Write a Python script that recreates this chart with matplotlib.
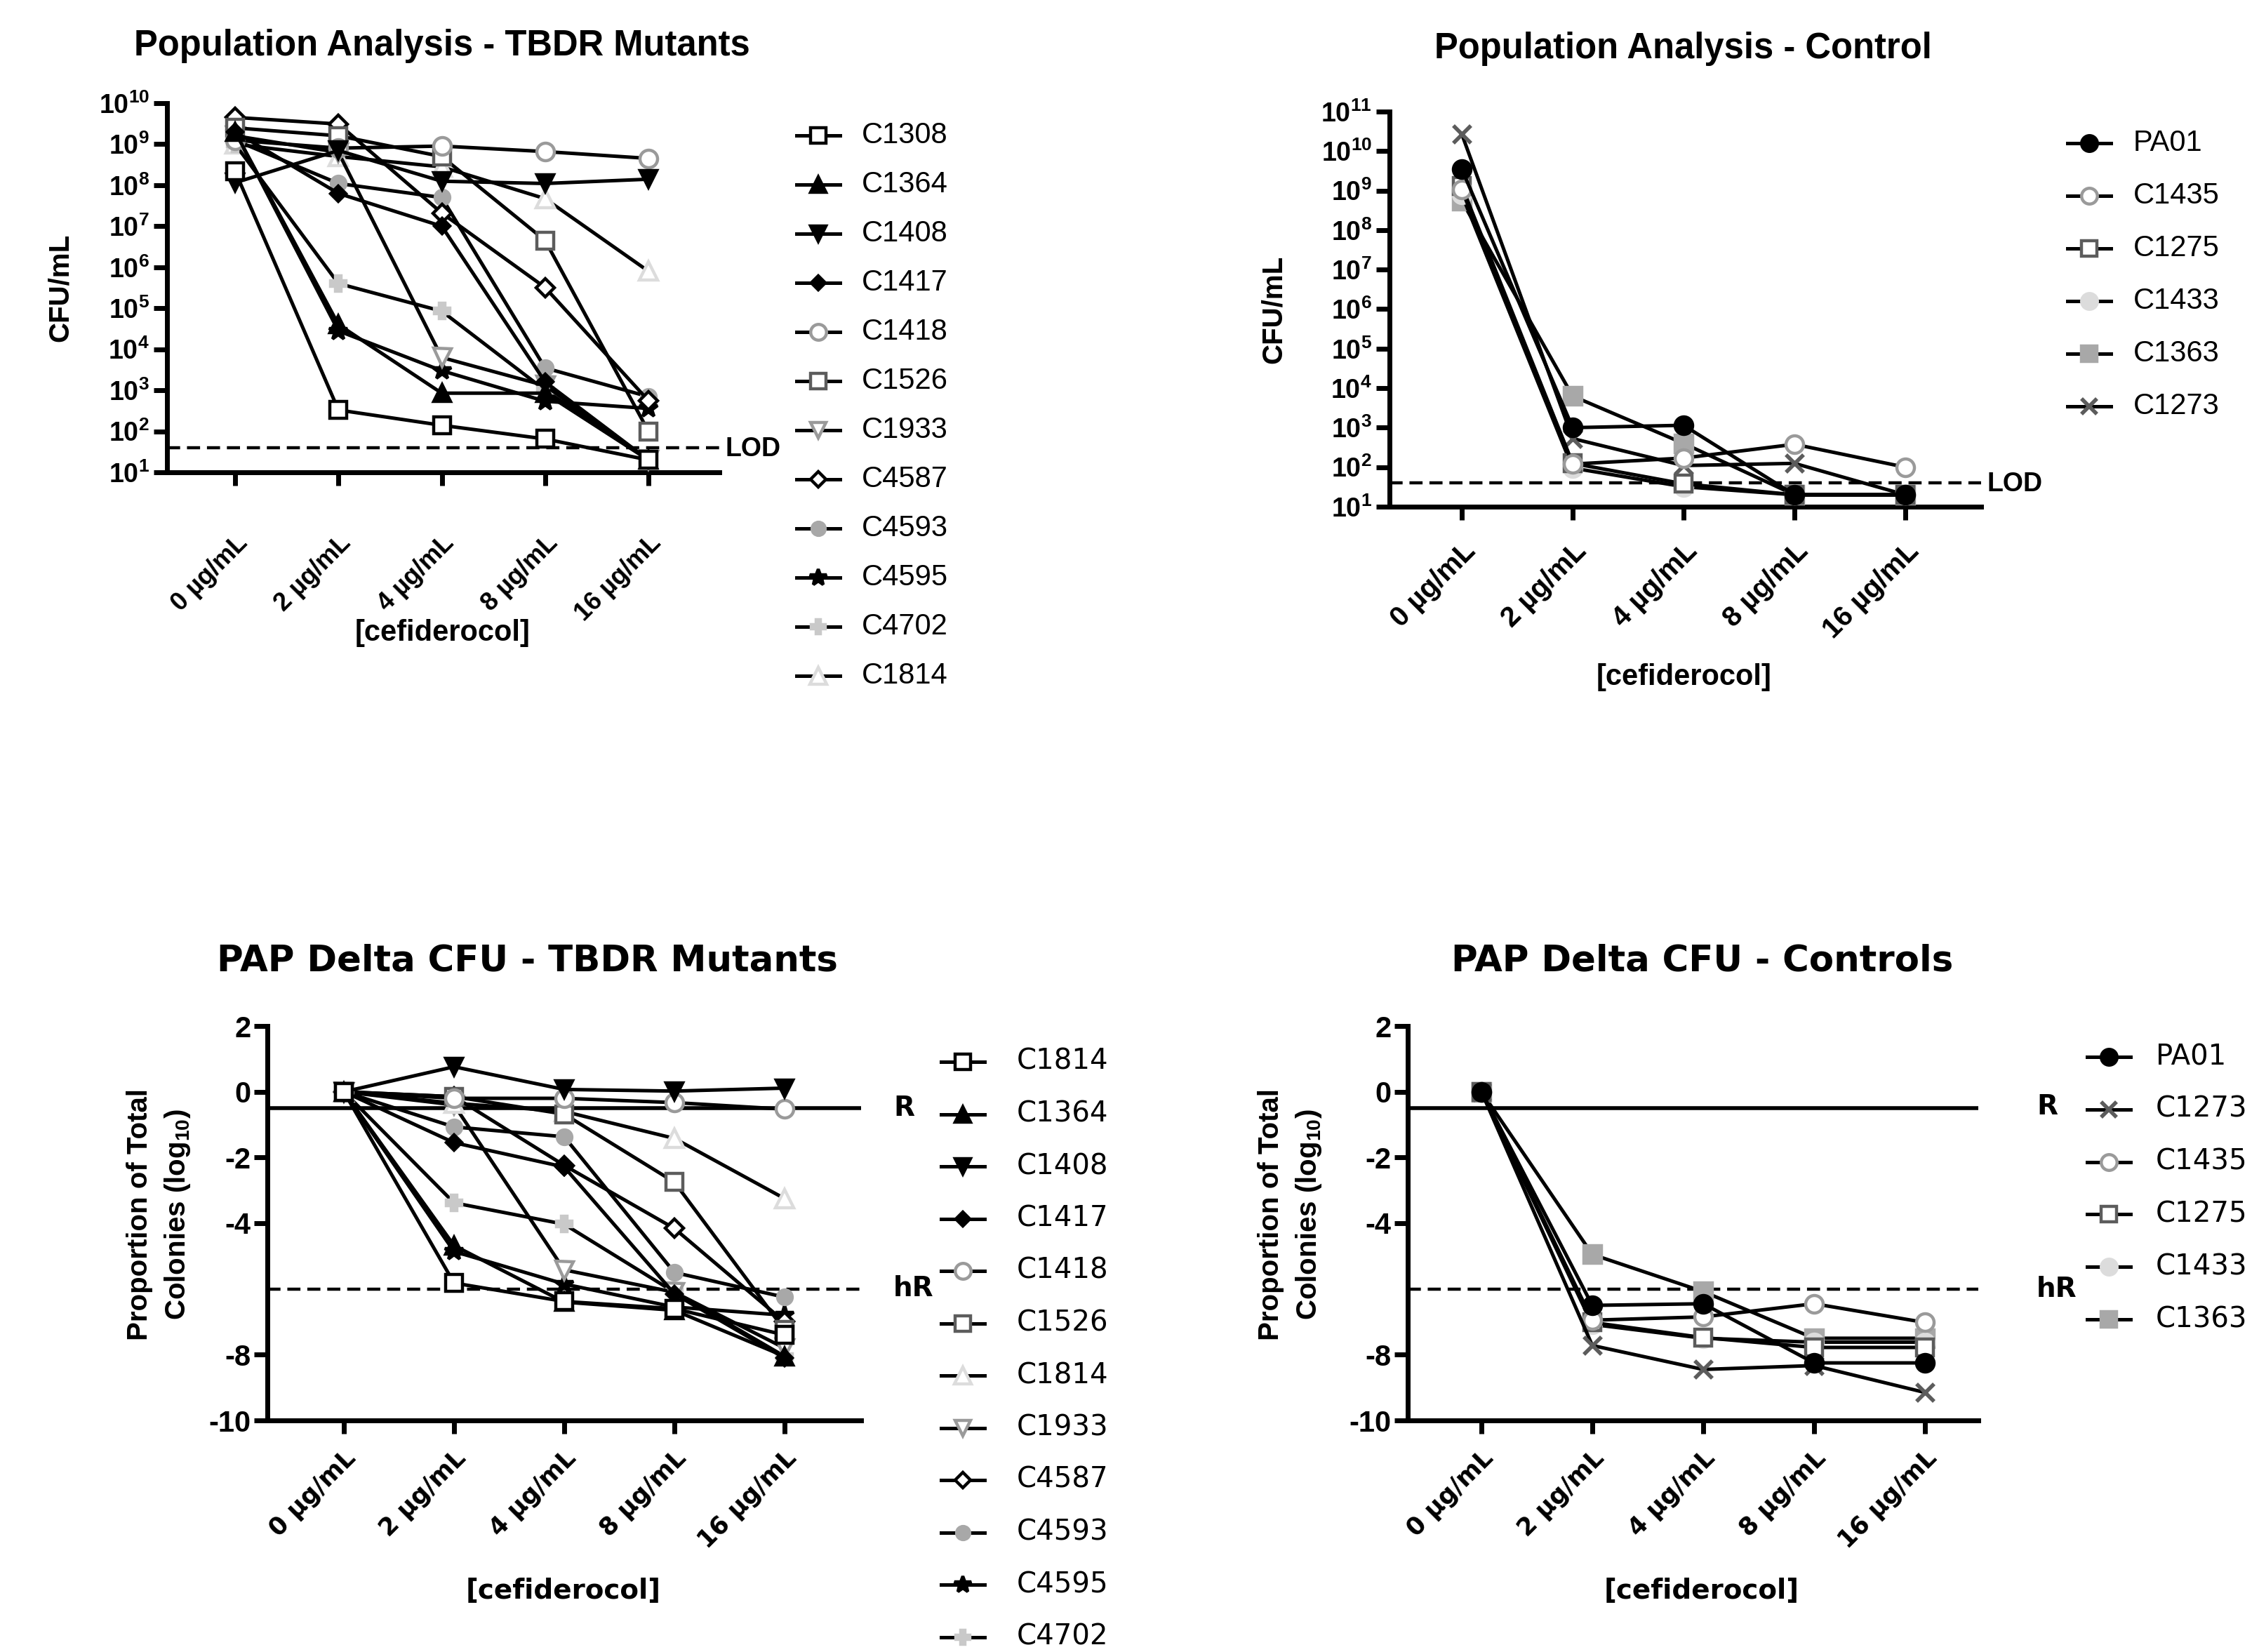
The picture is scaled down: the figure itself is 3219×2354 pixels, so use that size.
import matplotlib
matplotlib.use('Agg')
import matplotlib.pyplot as plt
from matplotlib.lines import Line2D
from matplotlib.ticker import FixedLocator, FixedFormatter, NullLocator

plt.rcParams['font.family'] = ['Liberation Sans', 'DejaVu Sans']
plt.rcParams['mathtext.fontset'] = 'custom'
plt.rcParams['mathtext.rm'] = 'Liberation Sans'
plt.rcParams['mathtext.bf'] = 'Liberation Sans:bold'
plt.rcParams['mathtext.it'] = 'Liberation Sans:italic'
plt.rcParams['mathtext.sf'] = 'Liberation Sans'

# ---------------------------------------------------------------- data
concentrations = ['0 µg/mL', '2 µg/mL', '4 µg/mL', '8 µg/mL', '16 µg/mL']
x_label = '[cefiderocol]'

# Population analysis - TBDR mutants (CFU/mL)
mutant_strains = ['C1308', 'C1364', 'C1408', 'C1417', 'C1418', 'C1526',
                  'C1933', 'C4587', 'C4593', 'C4595', 'C4702', 'C1814']
cfu_C1308 = [2.2e8, 330, 140, 65, 20]
cfu_C1364 = [2.0e9, 4.0e4, 850, 850, 20]
cfu_C1408 = [1.15e8, 7.0e8, 1.25e8, 1.1e8, 1.4e8]
cfu_C1417 = [2.0e9, 6.3e7, 1.0e7, 1.6e3, 20]
cfu_C1418 = [1.25e9, 8.0e8, 9.0e8, 6.6e8, 4.5e8]
cfu_C1526 = [2.5e9, 1.6e9, 5.0e8, 4.5e6, 100]
cfu_C1933 = [1.6e9, 6.3e8, 6.3e3, 1.3e3, 20]
cfu_C4587 = [4.5e9, 3.1e9, 2.1e7, 3.2e5, 560]
cfu_C4593 = [1.25e9, 1.1e8, 5.0e7, 3.5e3, 700]
cfu_C4595 = [2.0e9, 2.8e4, 3.0e3, 540, 360]
cfu_C4702 = [1.0e9, 4.0e5, 8.5e4, 1.0e3, 20]
cfu_C1814 = [1.0e9, 5.0e8, 2.8e8, 4.7e7, 8.0e5]
mutant_cfu = [cfu_C1308, cfu_C1364, cfu_C1408, cfu_C1417, cfu_C1418, cfu_C1526,
              cfu_C1933, cfu_C4587, cfu_C4593, cfu_C4595, cfu_C4702, cfu_C1814]

# Population analysis - controls (CFU/mL)
control_strains = ['PA01', 'C1435', 'C1275', 'C1433', 'C1363', 'C1273']
cfu_PA01 = [3.5e9, 1.0e3, 1.15e3, 20, 20]
cfu_C1435 = [1.05e9, 120, 170, 380, 100]
cfu_C1275 = [1.3e9, 125, 38, 20, 20]
cfu_C1433 = [8.0e8, 95, 32, 20, 20]
cfu_C1363 = [5.5e8, 6.3e3, 400, 20, 20]
cfu_C1273 = [2.7e10, 530, 110, 125, 20]
control_cfu = [cfu_PA01, cfu_C1435, cfu_C1275, cfu_C1433, cfu_C1363, cfu_C1273]

lod_cfu = 40

# PAP delta CFU - TBDR mutants (log10 proportion)
pap_mutant_labels = ['C1814', 'C1364', 'C1408', 'C1417', 'C1418', 'C1526',
                     'C1814', 'C1933', 'C4587', 'C4593', 'C4595', 'C4702']
pap_mutant_style_keys = ['C1308', 'C1364', 'C1408', 'C1417', 'C1418', 'C1526',
                         'C1814', 'C1933', 'C4587', 'C4593', 'C4595', 'C4702']
pap_C1308 = [0, -5.82, -6.38, -6.60, -7.40]
pap_C1364 = [0, -4.68, -6.40, -6.65, -8.05]
pap_C1408 = [0, 0.76, 0.07, 0.02, 0.11]
pap_C1417 = [0, -1.55, -2.29, -6.15, -8.10]
pap_C1418 = [0, -0.20, -0.20, -0.33, -0.53]
pap_C1526 = [0, -0.15, -0.68, -2.75, -7.25]
pap_C1814 = [0, -0.35, -0.60, -1.42, -3.25]
pap_C1933 = [0, -0.40, -5.42, -6.10, -7.80]
pap_C4587 = [0, -0.15, -2.24, -4.16, -7.00]
pap_C4593 = [0, -1.07, -1.37, -5.50, -6.25]
pap_C4595 = [0, -4.86, -5.85, -6.55, -6.80]
pap_C4702 = [0, -3.38, -4.03, -6.10, -8.05]
pap_mutant = [pap_C1308, pap_C1364, pap_C1408, pap_C1417, pap_C1418, pap_C1526,
              pap_C1814, pap_C1933, pap_C4587, pap_C4593, pap_C4595, pap_C4702]

# PAP delta CFU - controls
pap_control_labels = ['PA01', 'C1273', 'C1435', 'C1275', 'C1433', 'C1363']
pap_PA01 = [0, -6.50, -6.45, -8.25, -8.25]
pap_C1273 = [0, -7.72, -8.45, -8.33, -9.15]
pap_C1435 = [0, -6.95, -6.85, -6.45, -7.02]
pap_C1275 = [0, -7.02, -7.48, -7.78, -7.78]
pap_C1433 = [0, -7.08, -7.50, -7.62, -7.62]
pap_C1363 = [0, -4.95, -6.08, -7.50, -7.50]
pap_control = [pap_PA01, pap_C1273, pap_C1435, pap_C1275, pap_C1433, pap_C1363]

r_threshold = -0.5
hr_threshold = -6
pap_yticks = [2, 0, -2, -4, -8, -10]

# ---------------------------------------------------------------- styles
BLACK, DARK, MID, GREY, LIGHT, PALE = '#000000', '#5c5c5c', '#9a9a9a', '#a8a8a8', '#c9c9c9', '#dcdcdc'
styles = {
    'C1308': dict(marker='s', mfc='white', mec=BLACK, ms=17),
    'C1364': dict(marker='^', mfc=BLACK, mec=BLACK, ms=17),
    'C1408': dict(marker='v', mfc=BLACK, mec=BLACK, ms=17),
    'C1417': dict(marker='D', mfc=BLACK, mec=BLACK, ms=11),
    'C1418': dict(marker='o', mfc='white', mec=MID, ms=18),
    'C1526': dict(marker='s', mfc='white', mec=DARK, ms=17),
    'C1933': dict(marker='v', mfc='white', mec=MID, ms=18),
    'C4587': dict(marker='D', mfc='white', mec=BLACK, ms=13),
    'C4593': dict(marker='o', mfc=GREY, mec=GREY, ms=15),
    'C4595': dict(marker='*', mfc=BLACK, mec=BLACK, ms=20),
    'C4702': dict(marker='P', mfc=LIGHT, mec=LIGHT, ms=16),
    'C1814': dict(marker='^', mfc='white', mec=PALE, ms=19),
    'PA01': dict(marker='o', mfc=BLACK, mec=BLACK, ms=18),
    'C1435': dict(marker='o', mfc='white', mec=MID, ms=18),
    'C1275': dict(marker='s', mfc='white', mec=DARK, ms=17),
    'C1433': dict(marker='o', mfc=PALE, mec=PALE, ms=18),
    'C1363': dict(marker='s', mfc=GREY, mec=GREY, ms=18),
    'C1273': dict(marker='x', mfc=DARK, mec=DARK, ms=18),
}
LW = 3.6
MEW = 3.2

W, H = 3219, 2354
DPI = 100
fig = plt.figure(figsize=(W / DPI, H / DPI), dpi=DPI)
fig.patch.set_facecolor('white')

BOT_FONT = ['DejaVu Sans']
DASH = (0, (4.2, 2.2))


def fx(x):
    return x / W


def fy(y):
    return 1 - y / H


def make_axes(left, right, top, bottom, tick0, tick4):
    ax = fig.add_axes([left / W, 1 - bottom / H, (right - left) / W, (bottom - top) / H])
    s = (tick4 - tick0) / 4.0
    ax.set_xlim((left - tick0) / s, (right - tick0) / s)
    for side in ('top', 'right'):
        ax.spines[side].set_visible(False)
    for side in ('left', 'bottom'):
        ax.spines[side].set_linewidth(5)
        ax.spines[side].set_capstyle('projecting')
    ax.tick_params(axis='both', which='major', direction='out', length=14, width=5, color='black')
    ax.tick_params(axis='both', which='minor', length=0)
    ax.set_facecolor('none')
    return ax


def plot_series(ax, values, key, order):
    st = styles[key]
    ax.plot(range(len(values)), values, color='black', lw=LW, linestyle='-',
            marker=st['marker'], markerfacecolor=st['mfc'], markeredgecolor=st['mec'],
            markersize=st['ms'], markeredgewidth=MEW if st['marker'] != 'x' else 4.0,
            clip_on=False, zorder=4 - 0.05 * order)


def draw_legend(labels, keys, mx, tx, y0, dy, fontsize, family):
    for i, (lab, key) in enumerate(zip(labels, keys)):
        y = y0 + i * dy
        st = styles[key]
        fig.add_artist(Line2D([fx(mx - 31), fx(mx + 31)], [fy(y), fy(y)], color='black', lw=LW))
        fig.add_artist(Line2D([fx(mx)], [fy(y)], linestyle='none', marker=st['marker'],
                              markerfacecolor=st['mfc'], markeredgecolor=st['mec'],
                              markersize=st['ms'] * 0.9,
                              markeredgewidth=MEW if st['marker'] != 'x' else 4.0))
        fig.text(fx(tx), fy(y), lab, ha='left', va='center', fontsize=fontsize, family=family)


def log_ticks(ax, lo, hi, fs):
    ax.set_yscale('log')
    ax.set_ylim(10 ** lo, 10 ** hi)
    ax.yaxis.set_major_locator(FixedLocator([10 ** k for k in range(lo, hi + 1)]))
    ax.yaxis.set_major_formatter(FixedFormatter([r'$\mathbf{10^{%d}}$' % k for k in range(lo, hi + 1)]))
    ax.yaxis.set_minor_locator(NullLocator())
    ax.tick_params(axis='y', labelsize=fs, pad=4)


def x_ticks(ax, fs, pad, family):
    ax.set_xticks(range(len(concentrations)))
    ax.set_xticklabels(concentrations, rotation=45, ha='right', va='top', rotation_mode='anchor',
                       fontweight='bold', fontsize=fs, family=family)
    ax.tick_params(axis='x', pad=pad)


# ---------------------------------------------------------------- top-left
ax1 = make_axes(238, 1025, 147, 673, 335, 924)
log_ticks(ax1, 1, 10, 27)
x_ticks(ax1, 26, 46, ['Liberation Sans'])
for i, (vals, key) in enumerate(zip(mutant_cfu, mutant_strains)):
    plot_series(ax1, vals, key, i)
ax1.axhline(lod_cfu, color='black', lw=3.2, linestyle=DASH, zorder=2)
fig.text(fx(1034), fy(640), 'LOD', ha='left', va='center', fontsize=27, fontweight='bold')
fig.text(fx(630), fy(66), 'Population Analysis - TBDR Mutants', ha='center', va='center',
         fontsize=36.5, fontweight='bold')
fig.text(fx(86), fy(410), 'CFU/mL', ha='center', va='center', rotation=90, fontsize=29, fontweight='bold')
fig.text(fx(631), fy(902), x_label, ha='center', va='center', fontsize=30, fontweight='bold')
draw_legend(mutant_strains, mutant_strains, 1166, 1228, 193, 70, 30, ['Liberation Sans'])

# ---------------------------------------------------------------- top-right
ax2 = make_axes(1980, 2823, 159, 722, 2083, 2715)
log_ticks(ax2, 1, 11, 27)
x_ticks(ax2, 29, 18, ['Liberation Sans'])
for i, (vals, key) in enumerate(zip(control_cfu, control_strains)):
    plot_series(ax2, vals, key, i)
ax2.axhline(lod_cfu, color='black', lw=3.2, linestyle=DASH, zorder=2)
fig.text(fx(2832), fy(690), 'LOD', ha='left', va='center', fontsize=27, fontweight='bold')
fig.text(fx(2398), fy(70), 'Population Analysis - Control', ha='center', va='center',
         fontsize=36.5, fontweight='bold')
fig.text(fx(1815), fy(441), 'CFU/mL', ha='center', va='center', rotation=90, fontsize=29, fontweight='bold')
fig.text(fx(2400), fy(965), x_label, ha='center', va='center', fontsize=30, fontweight='bold')
draw_legend(control_strains, control_strains, 2977, 3040, 204, 75, 30, ['Liberation Sans'])


def pap_axes(ax):
    ax.set_ylim(-10, 2)
    ax.set_yticks(pap_yticks)
    ax.set_yticklabels([str(v) for v in pap_yticks], fontweight='bold', fontsize=30)
    ax.tick_params(axis='y', pad=3)
    ax.axhline(r_threshold, color='black', lw=4.0, zorder=2)
    ax.axhline(hr_threshold, color='black', lw=3.2, linestyle=DASH, zorder=2)


# ---------------------------------------------------------------- bottom-left
ax3 = make_axes(381, 1227, 1462, 2024, 490, 1118)
pap_axes(ax3)
x_ticks(ax3, 25, 12, BOT_FONT)
for i, (vals, key) in enumerate(zip(pap_mutant, pap_mutant_style_keys)):
    plot_series(ax3, vals, key, i)
fig.text(fx(1273), fy(1579), 'R', ha='left', va='center', fontsize=28, fontweight='bold', family=BOT_FONT)
fig.text(fx(1273), fy(1836), 'hR', ha='left', va='center', fontsize=28, fontweight='bold', family=BOT_FONT)
fig.text(fx(751), fy(1369), 'PAP Delta CFU - TBDR Mutants', ha='center', va='center',
         fontsize=37, fontweight='bold', family=BOT_FONT)
fig.text(fx(199), fy(1730), 'Proportion of Total', ha='center', va='center', rotation=90,
         fontsize=29, fontweight='bold')
fig.text(fx(253), fy(1730), r'Colonies (log$_{\mathbf{10}}$)', ha='center', va='center', rotation=90,
         fontsize=29, fontweight='bold')
fig.text(fx(803), fy(2266), x_label, ha='center', va='center', fontsize=28, fontweight='bold', family=BOT_FONT)
draw_legend(pap_mutant_labels, pap_mutant_style_keys, 1372, 1449, 1513, 74.5, 29, BOT_FONT)

# ---------------------------------------------------------------- bottom-right
ax4 = make_axes(2006, 2819, 1462, 2024, 2111, 2743)
pap_axes(ax4)
x_ticks(ax4, 25, 12, BOT_FONT)
for i, (vals, key) in enumerate(zip(pap_control, pap_control_labels)):
    plot_series(ax4, vals, key, i)
fig.text(fx(2902), fy(1577), 'R', ha='left', va='center', fontsize=28, fontweight='bold', family=BOT_FONT)
fig.text(fx(2902), fy(1837), 'hR', ha='left', va='center', fontsize=28, fontweight='bold', family=BOT_FONT)
fig.text(fx(2426), fy(1369), 'PAP Delta CFU - Controls', ha='center', va='center',
         fontsize=37, fontweight='bold', family=BOT_FONT)
fig.text(fx(1811), fy(1730), 'Proportion of Total', ha='center', va='center', rotation=90,
         fontsize=29, fontweight='bold')
fig.text(fx(1865), fy(1730), r'Colonies (log$_{\mathbf{10}}$)', ha='center', va='center', rotation=90,
         fontsize=29, fontweight='bold')
fig.text(fx(2425), fy(2266), x_label, ha='center', va='center', fontsize=28, fontweight='bold', family=BOT_FONT)
draw_legend(pap_control_labels, pap_control_labels, 3005, 3072, 1506, 74.8, 29, BOT_FONT)

fig.savefig('out.png', dpi=DPI, facecolor='white')
